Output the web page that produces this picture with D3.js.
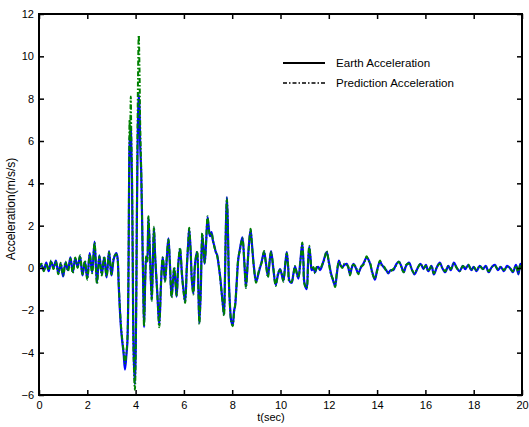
<!DOCTYPE html>
<html><head><meta charset="utf-8">
<script src="https://cdn.jsdelivr.net/npm/d3@7"></script>
<style>
html,body{margin:0;padding:0;background:#fff;}
svg text{font-family:"Liberation Sans",Arial,sans-serif;fill:#000;}
</style></head>
<body><svg id="chart" width="529" height="427"></svg>
<script>
// ---- data ----
const timeSec = [
 0,0.1,0.2,0.3,0.4,0.5,0.6,0.7,0.8,0.9,1.0,1.1,1.2,1.3,1.4,1.5,1.6,1.7,1.8,1.9,2.0,2.1,2.2,2.3,2.4,2.5,2.6,2.7,2.8,2.9,3.0,3.1,3.2,
 3.25,3.3,3.35,3.4,3.45,3.5,3.56,3.62,3.66,3.70,3.73,3.75,3.77,3.80,3.82,3.85,3.88,3.92,3.97,4.01,4.05,4.08,4.10,4.13,4.16,4.19,4.23,4.28,4.31,4.35,
 4.40,4.44,4.48,4.53,4.60,4.67,4.72,4.76,4.80,4.84,
 4.90,4.98,5.05,5.12,5.17,5.22,5.30,5.36,5.42,5.49,
 5.55,5.60,5.66,5.70,5.77,5.84,5.92,5.98,6.05,6.12,
 6.18,6.22,6.28,6.33,6.39,6.45,6.50,6.55,6.60,6.64,
 6.70,6.76,6.82,6.86,6.92,6.98,7.03,7.08,7.14,7.20,
 7.27,7.32,7.38,7.43,7.50,7.56,7.62,7.66,7.70,7.74,
 7.78,7.82,7.86,7.90,7.96,8.02,
 8.08,8.12,8.18,8.25,8.32,8.42,8.50,8.57,8.64,8.70,
 8.76,8.82,8.90,8.99,9.08,9.15,9.22,9.32,9.40,9.48,
 9.55,9.61,9.70,9.80,9.90,9.98,10.05,10.12,10.20,10.26,
 10.32,10.37,10.46,10.53,10.60,10.67,10.74,10.82,10.90,10.95,
 10.99,11.08,11.14,11.19,11.25,11.29,11.36,11.43,11.50,11.57,
 11.64,11.72,11.80,11.91,12.00,12.09,12.18,12.26,12.34,12.42,
 12.49,12.56,12.65,12.74,12.81,12.88,12.95,13.02,13.12,13.22,
 13.32,13.43,13.57,13.64,13.71,13.80,13.91,14.00,14.12,14.20,
 14.30,14.38,14.46,14.56,14.67,
 14.78,14.9,15.0,15.1,15.2,15.32,15.45,15.55,15.68,15.8,
 15.92,16.02,16.12,16.25,16.35,16.48,16.6,16.7,16.82,16.95,
 17.05,17.18,17.3,17.42,17.55,17.65,17.78,17.9,18.0,18.12,
 18.25,18.38,18.5,18.62,18.75,18.88,19.0,19.12,19.25,19.38,
 19.5,19.62,19.75,19.85,19.93,20.0
];
const earthAccel = [
 0.0,0.15,-0.12,0.25,-0.15,0.3,0.0,0.35,-0.25,0.2,-0.4,0.25,-0.1,0.5,-0.2,0.45,0.05,0.55,-0.35,0.3,-0.5,0.7,-0.2,1.25,-0.7,0.6,-0.3,0.5,-0.45,0.8,-0.35,0.45,0.7,
 0.5,-0.8,-2.0,-2.9,-3.5,-4.0,-4.8,-4.1,-3.5,-1.0,4.0,6.2,5.6,6.7,5.8,4.2,0.5,-4.0,-5.5,-3.5,2.0,5.5,7.0,8.2,7.6,5.8,4.6,1.5,-0.5,-2.8,
 -0.5,0.5,0.3,2.4,0.5,-1.5,0.5,1.9,0.8,-0.1,
 -1.2,-2.7,-0.8,0.5,0.0,-0.6,0.6,1.4,0.2,-1.35,
 -0.6,0.0,-0.8,-1.35,0.2,0.9,-0.3,-1.0,-1.6,0.0,
 1.2,1.85,0.8,-0.6,-1.2,0.0,0.55,0.75,-1.0,-2.6,
 -1.0,1.6,0.8,0.2,1.2,2.4,1.9,1.5,1.7,1.3,
 1.0,0.75,0.6,0.2,-0.4,-1.1,-1.8,-2.2,-0.5,2.0,
 3.35,2.0,-0.5,-1.6,-2.5,-2.7,
 -2.0,-1.8,-0.8,0.4,0.9,1.45,0.3,-0.9,0.2,1.2,
 1.8,1.1,0.05,-0.65,-0.3,0.0,0.3,0.75,0.2,-0.4,
 0.3,0.8,0.0,-0.8,-0.3,-0.05,-0.3,-0.6,0.2,0.75,
 0.0,-0.6,-0.7,-0.3,0.05,-0.2,-0.5,0.3,1.15,0.3,
 -0.7,-1.0,0.2,1.0,0.4,-0.1,0.0,-0.2,0.0,0.05,
 -0.1,0.1,0.4,0.75,0.3,-0.25,-0.6,-0.85,-0.2,0.35,
 0.1,0.05,0.15,0.2,0.0,-0.3,0.0,0.2,0.0,-0.25,
 0.0,0.2,0.5,0.4,0.2,-0.2,-0.55,-0.1,0.3,0.15,
 0.0,-0.1,-0.25,-0.1,-0.1,
 0.15,0.3,0.1,-0.2,0.1,0.25,-0.1,-0.3,0.0,0.2,
 -0.05,0.15,-0.15,0.1,-0.3,0.05,0.25,0.0,-0.2,0.1,
 -0.1,0.25,0.0,-0.15,0.1,-0.05,0.15,-0.1,0.05,-0.15,
 0.1,-0.05,0.1,-0.2,0.05,0.15,-0.1,0.05,-0.15,0.1,
 0.0,-0.2,0.15,-0.3,0.2,0.0
];
const predAccel = [
 0.05,0.2,-0.15,0.2,-0.1,0.35,-0.05,0.3,-0.3,0.25,-0.35,0.3,-0.15,0.45,-0.25,0.5,0.0,0.6,-0.3,0.35,-0.55,0.65,-0.25,1.2,-0.75,0.55,-0.35,0.55,-0.4,0.75,-0.3,0.5,0.65,
 0.45,-0.7,-1.9,-2.8,-3.4,-3.9,-4.5,-4.0,-3.4,-0.8,4.5,7.0,6.0,8.1,6.4,4.5,0.6,-4.3,-5.75,-3.6,2.2,6.5,9.0,11.0,9.5,6.8,4.8,1.6,-0.4,-2.75,
 -0.45,0.55,0.25,2.45,0.45,-1.55,0.55,1.95,0.75,-0.05,
 -1.25,-2.8,-0.75,0.5,0.05,-0.65,0.65,1.35,0.25,-1.4,
 -0.55,0.05,-0.85,-1.3,0.25,0.95,-0.35,-1.05,-1.65,0.05,
 1.25,1.9,0.75,-0.55,-1.25,0.05,0.5,0.8,-1.05,-2.65,
 -0.95,1.65,0.75,0.25,1.25,2.45,1.85,1.55,1.65,1.35,
 0.95,0.8,0.55,0.25,-0.45,-1.15,-1.85,-2.25,-0.45,2.05,
 3.3,1.95,-0.55,-1.65,-2.55,-2.75,
 -2.05,-1.75,-0.85,0.45,0.85,1.4,0.35,-0.95,0.25,1.15,
 1.85,1.05,0.0,-0.7,-0.25,0.05,0.25,0.8,0.15,-0.45,
 0.35,0.75,0.05,-0.85,-0.25,-0.1,-0.25,-0.65,0.25,0.7,
 0.05,-0.65,-0.65,-0.35,0.1,-0.25,-0.45,0.25,1.2,0.25,
 -0.75,-0.95,0.15,1.05,0.35,-0.05,0.05,-0.25,0.05,0.0,
 -0.05,0.15,0.35,0.8,0.25,-0.3,-0.55,-0.9,-0.15,0.3,
 0.15,0.0,0.2,0.15,0.05,-0.35,0.05,0.15,0.05,-0.3,
 0.05,0.15,0.55,0.35,0.25,-0.25,-0.5,-0.15,0.35,0.1,
 0.05,-0.15,-0.2,-0.15,-0.05,
 0.1,0.3,0.05,-0.2,0.15,0.2,-0.1,-0.25,0.0,0.2,
 0.0,0.1,-0.15,0.1,-0.25,0.05,0.2,0.0,-0.15,0.1,
 -0.05,0.2,0.0,-0.15,0.1,0.0,0.15,-0.1,0.05,-0.1,
 0.1,-0.05,0.05,-0.15,0.05,0.1,-0.05,0.05,-0.1,0.05,
 0.0,-0.15,0.1,-0.25,0.15,0.0
];
const xTicks = [0,2,4,6,8,10,12,14,16,18,20];
const yTicks = [-6,-4,-2,0,2,4,6,8,10,12];
const seriesNames = ["Earth Acceleration","Prediction Acceleration"];
const xLabel = "t(sec)";
const yLabel = "Acceleration(m/s/s)";

// ---- layout ----
const L = 39, R = 522, T = 14, B = 395;
const svg = d3.select("#chart");
const x = d3.scaleLinear().domain([0,20]).range([L,R]);
const y = d3.scaleLinear().domain([-6,12]).range([B,T]);

svg.append("defs").append("clipPath").attr("id","clip")
  .append("rect").attr("x",L).attr("y",T).attr("width",R-L).attr("height",B-T);

const n = Math.min(timeSec.length, earthAccel.length, predAccel.length);
const earth = d3.range(n).map(i => [timeSec[i], earthAccel[i]]);
const pred = d3.range(n).map(i => [timeSec[i], predAccel[i]]);

const line = d3.line().x(d => x(d[0])).y(d => y(d[1])).curve(d3.curveCatmullRom.alpha(0.5));

const g = svg.append("g").attr("clip-path","url(#clip)");
g.append("path").datum(earth).attr("d",line)
  .attr("fill","none").attr("stroke","#0000ff").attr("stroke-width",2.2).attr("stroke-linejoin","round");
g.append("path").datum(pred).attr("d",line)
  .attr("fill","none").attr("stroke","#008000").attr("stroke-width",2)
  .attr("stroke-dasharray","5,2,1.5,2");

// ---- axes ----
const fs = 11;
const axB = d3.axisBottom(x).tickValues(xTicks).tickSize(-5).tickPadding(6).tickFormat(d3.format("d"));
const axL = d3.axisLeft(y).tickValues(yTicks).tickSize(-5).tickPadding(5).tickFormat(d3.format("d"));
const axT = d3.axisTop(x).tickValues(xTicks).tickSize(-5).tickFormat("");
const axR = d3.axisRight(y).tickValues(yTicks).tickSize(-5).tickFormat("");

function style(sel){
  sel.select(".domain").remove();
  sel.selectAll(".tick line").attr("stroke","#000").attr("stroke-width",1.5);
  sel.selectAll(".tick text").attr("font-size",fs).attr("font-family","Liberation Sans, Arial, sans-serif").attr("fill","#000");
}
svg.append("g").attr("transform",`translate(0,${B})`).call(axB).call(style);
svg.append("g").attr("transform",`translate(${L},0)`).call(axL).call(style);
svg.append("g").attr("transform",`translate(0,${T})`).call(axT).call(style);
svg.append("g").attr("transform",`translate(${R},0)`).call(axR).call(style);

svg.append("rect").attr("x",L).attr("y",T).attr("width",R-L).attr("height",B-T)
  .attr("fill","none").attr("stroke","#000").attr("stroke-width",2);

// labels
svg.append("text").attr("x",271).attr("y",421).attr("text-anchor","middle").attr("font-size",fs).text(xLabel);
svg.append("text").attr("transform",`translate(15,209) rotate(-90)`).attr("text-anchor","middle").attr("font-size",12).text(yLabel);

// legend
const leg = svg.append("g");
const ly = [63, 83];
leg.append("line").attr("x1",283).attr("x2",325).attr("y1",ly[0]).attr("y2",ly[0]).attr("stroke","#000").attr("stroke-width",1.8);
leg.append("line").attr("x1",283).attr("x2",325).attr("y1",ly[1]).attr("y2",ly[1]).attr("stroke","#000").attr("stroke-width",1.5).attr("stroke-dasharray","4,2,1.5,2");
seriesNames.forEach((s,i)=>{
  leg.append("text").attr("x",336).attr("y",ly[i]+4).attr("font-size",11.6).text(s);
});
</script></body></html>
